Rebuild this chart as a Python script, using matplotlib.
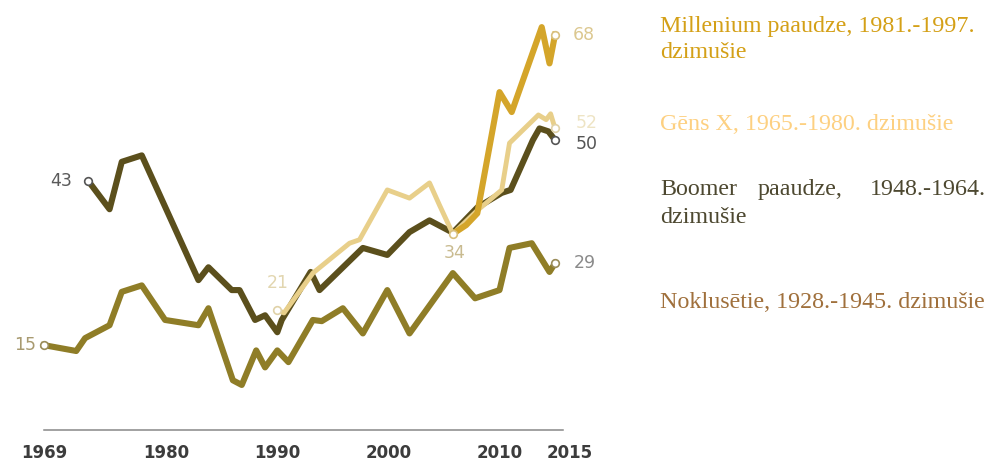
import matplotlib.pyplot as plt
from matplotlib.transforms import ScaledTranslation

# vērtības nolasītas no attēla (gads, %)
years_silent = [1969, 1971.9, 1972.7, 1974.9, 1976.0, 1977.8, 1979.9, 1982.9, 1983.8, 1986.0,
                1986.8, 1988.1, 1988.9, 1990.0, 1991.0, 1993.2, 1994.0, 1995.9, 1997.7, 1999.9,
                2001.9, 2005.8, 2007.8, 2010.0, 2010.9, 2012.9, 2014.5, 2015.0]
silent = [15, 14.0, 16.2, 18.4, 24.1, 25.2, 19.3, 18.4, 21.3, 9.0,
          8.2, 14.1, 11.2, 14.1, 12.1, 19.3, 19.1, 21.3, 17.0, 24.4,
          17.0, 27.3, 23.0, 24.4, 31.6, 32.4, 27.5, 29]

years_boomer = [1973.0, 1974.9, 1976.0, 1977.8, 1982.9, 1983.8, 1985.9, 1986.6, 1988.0, 1988.9,
                1990.0, 1990.4, 1993.0, 1993.8, 1997.7, 1999.9, 2001.9, 2003.7, 2005.8, 2008.0,
                2010.2, 2011.0, 2013.0, 2013.6, 2014.4, 2015.0]
boomer = [43, 38.2, 46.3, 47.4, 26.1, 28.3, 24.4, 24.4, 19.3, 20.1,
          17.2, 19.3, 27.5, 24.4, 31.6, 30.4, 34.3, 36.3, 34.2, 38.5,
          41.0, 41.5, 50.0, 52.0, 51.5, 50]

years_genx = [1990.0, 1990.6, 1993.2, 1996.5, 1997.4, 1999.9, 2001.9, 2003.7, 2004.6, 2005.8,
              2008.0, 2010.2, 2010.9, 2013.5, 2014.2, 2014.6, 2015.0]
genx = [21, 20.5, 27.3, 32.4, 33.0, 41.5, 40.1, 42.7, 38.9, 34,
        38.0, 41.5, 49.5, 54.3, 53.5, 54.5, 52]

years_mill = [2005.8, 2007.0, 2008.0, 2010.0, 2011.1, 2013.8, 2014.5, 2015.0]
mill = [34, 35.5, 37.5, 58.2, 54.8, 69.3, 63.1, 68]

tick_years = [1969, 1980, 1990, 2000, 2010, 2015]

c_silent = '#8f7d27'
c_boomer = '#5b4f1c'
c_genx = '#e8cf8a'
c_mill = '#d4a52a'

fig = plt.figure(figsize=(9.89, 4.62), dpi=100)
ax = fig.add_axes([0, 32 / 462, 600 / 989, 430 / 462])

px_year = 11.11
px_val = 5.857
x0 = 1969 - 44 / px_year
ax.set_xlim(x0, x0 + 600 / px_year)
ax.set_ylim((433 - 430) / px_val, 433 / px_val)

ax.plot(years_silent, silent, color=c_silent, lw=4.4, solid_joinstyle='round', zorder=2)
ax.plot(years_boomer, boomer, color=c_boomer, lw=4.4, solid_joinstyle='round', zorder=3)
ax.plot(years_genx, genx, color=c_genx, lw=3.5, solid_joinstyle='round', zorder=4)
ax.plot(years_mill, mill, color=c_mill, lw=4.4, solid_joinstyle='round', zorder=5)

# tukšie punkti sākumā / beigās
mk = dict(marker='o', ms=5.5, mfc='white', mew=1.2, ls='none', zorder=6)
ax.plot([years_silent[0], years_silent[-1]], [silent[0], silent[-1]], mec='#9a8c5a', **mk)
ax.plot([years_boomer[0], years_boomer[-1]], [boomer[0], boomer[-1]], mec='#555555', **mk)
ax.plot([years_genx[0], years_genx[-1]], [genx[0], genx[-1]], mec='#e0d2a8', **mk)
ax.plot([years_mill[0], years_mill[-1]], [mill[0], mill[-1]], mec='#d8c080', **mk)

lab = dict(textcoords='offset pixels', fontsize=12.5, va='center')
ax.annotate('15', (years_silent[0], silent[0]), xytext=(-8, 0), ha='right', color='#a89a70', **lab)
ax.annotate('43', (years_boomer[0], boomer[0]), xytext=(-16, 0), ha='right', color='#5a5a5a', **lab)
ax.annotate('21', (years_genx[0], genx[0]), xytext=(0, 27), ha='center', color='#e2d6b0', **lab)
ax.annotate('34', (years_mill[0], mill[0]), xytext=(2, -19), ha='center', color='#c9bb90', **lab)
ax.annotate('68', (years_mill[-1], mill[-1]), xytext=(18, 0), ha='left', color='#dcc890', **lab)
ax.annotate('52', (years_genx[-1], genx[-1]), xytext=(21, 5), ha='left', color='#eee4c4', **lab)
ax.annotate('50', (years_boomer[-1], boomer[-1]), xytext=(21, -4), ha='left', color='#555555', **lab)
ax.annotate('29', (years_silent[-1], silent[-1]), xytext=(19, 0), ha='left', color='#8a8a8a', **lab)

for s in ['top', 'right', 'left']:
    ax.spines[s].set_visible(False)
ax.spines['bottom'].set_bounds(1969, 2015.7)
ax.spines['bottom'].set_color('#888888')
ax.spines['bottom'].set_linewidth(1.1)
ax.set_yticks([])
ax.set_xticks(tick_years)
ax.set_xticklabels([str(y) for y in tick_years], fontsize=12, fontweight='bold', color='#3c3c3c')
ax.tick_params(axis='x', length=0, pad=10)
lbl = ax.get_xticklabels()[-1]
lbl.set_transform(lbl.get_transform() + ScaledTranslation(15 / 100, 0, fig.dpi_scale_trans))
ax.patch.set_visible(False)

# leģenda labajā pusē
W, H = 989, 462
ser = dict(family='Liberation Serif', fontsize=17.3, va='baseline')
fig.text(660 / W, 1 - 32 / H, 'Millenium paaudze, 1981.-1997.', color='#d4a017', **ser)
fig.text(660 / W, 1 - 58 / H, 'dzimušie', color='#d4a017', **ser)
fig.text(660 / W, 1 - 130 / H, 'Gēns X, 1965.-1980. dzimušie', color='#fdd081', **ser)
fig.text(660 / W, 1 - 195 / H, 'Boomer', color='#4d4830', **ser)
fig.text(758 / W, 1 - 195 / H, 'paaudze,', color='#4d4830', **ser)
fig.text(986 / W, 1 - 195 / H, '1948.-1964.', color='#4d4830', ha='right', **ser)
fig.text(660 / W, 1 - 223 / H, 'dzimušie', color='#4d4830', **ser)
fig.text(660 / W, 1 - 308 / H, 'Noklusētie, 1928.-1945. dzimušie', color='#a0703c', **ser)

fig.savefig('out.png', dpi=100)
